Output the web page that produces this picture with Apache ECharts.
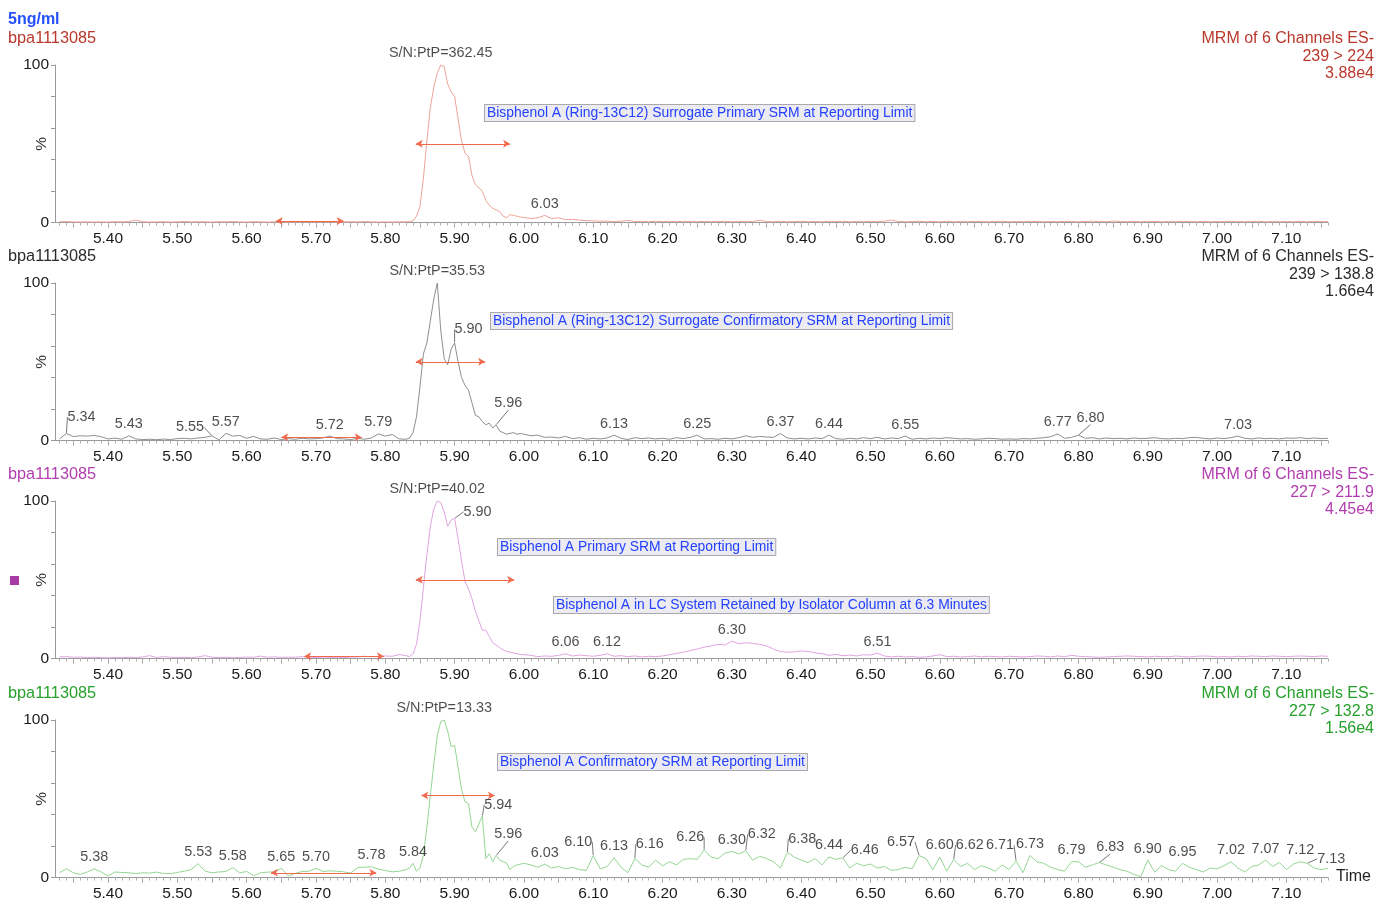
<!DOCTYPE html>
<html><head><meta charset="utf-8">
<script src="https://cdn.jsdelivr.net/npm/echarts@6/dist/echarts.min.js"></script>
<style>html,body{margin:0;padding:0;background:#fff}#c{width:1378px;height:902px}</style>
</head><body><div id="c"></div>
<script>
// ---------------- DATA ----------------
const times = [
5.33,5.34,5.35,5.36,5.37,5.38,5.39,5.40,5.41,5.42,
5.43,5.44,5.45,5.46,5.47,5.48,5.49,5.50,5.51,5.52,
5.53,5.54,5.55,5.56,5.57,5.58,5.59,5.60,5.61,5.62,
5.63,5.64,5.65,5.66,5.67,5.68,5.69,5.70,5.71,5.72,
5.73,5.74,5.75,5.76,5.77,5.78,5.79,5.80,5.81,5.82,
5.83,
5.835,5.84,5.845,5.85,5.855,5.86,5.865,5.87,5.875,5.88,
5.885,5.89,5.895,5.90,5.905,5.91,5.915,5.92,5.925,5.93,
5.935,5.94,5.945,5.95,5.955,5.96,5.965,5.97,5.975,5.98,
5.985,5.99,5.995,
6.00,6.01,6.02,6.03,6.04,6.05,6.06,6.07,6.08,6.09,
6.10,6.11,6.12,6.13,6.14,6.15,6.16,6.17,6.18,6.19,
6.20,6.21,6.22,6.23,6.24,6.25,6.26,6.27,6.28,6.29,
6.30,6.31,6.32,6.33,6.34,6.35,6.36,6.37,6.38,6.39,
6.40,6.41,6.42,6.43,6.44,6.45,6.46,6.47,6.48,6.49,
6.50,6.51,6.52,6.53,6.54,6.55,6.56,6.57,6.58,6.59,
6.60,6.61,6.62,6.63,6.64,6.65,6.66,6.67,6.68,6.69,
6.70,6.71,6.72,6.73,6.74,6.75,6.76,6.77,6.78,6.79,
6.80,6.81,6.82,6.83,6.84,6.85,6.86,6.87,6.88,6.89,
6.90,6.91,6.92,6.93,6.94,6.95,6.96,6.97,6.98,6.99,
7.00,7.01,7.02,7.03,7.04,7.05,7.06,7.07,7.08,7.09,
7.10,7.11,7.12,7.13,7.14,7.15,7.16
];

// Panel 1: 239 > 224 (Ring-13C12 surrogate primary)
const p1Values = [
0.5,0.6,0.4,0.3,0.4,0.3,0.4,0.3,0.5,0.4,
0.6,1.6,0.5,0.3,0.4,0.5,0.3,0.4,0.6,0.4,
0.5,0.4,0.3,0.5,0.4,0.6,0.4,0.3,0.5,0.4,
0.3,0.4,0.5,0.3,0.4,0.6,0.4,0.3,0.5,0.4,
0.3,0.4,0.5,0.4,0.6,0.4,0.3,0.4,0.3,0.4,
0.5,
0.5,1,4,10,28,52,73,86,95,100,
99,88,83,80,66,52,44,42,30,24,
22,20,14,11,9,8,7,4,3,5,
4.5,4,3.5,
3.2,2.5,3,4.5,2.5,3,1.8,2,1.5,1.2,
1,0.8,0.9,0.6,0.8,1.3,0.6,0.7,0.5,0.8,
0.6,0.7,0.5,0.8,0.6,0.5,0.7,0.5,0.6,0.8,
0.5,0.6,0.7,0.6,1.4,0.6,0.5,0.7,0.5,0.6,
0.8,0.5,0.6,0.5,0.7,0.6,0.8,0.5,0.6,0.5,
0.7,0.6,0.8,1.6,0.6,0.5,0.6,0.8,0.5,0.6,
0.5,0.7,0.5,0.6,0.5,0.7,0.6,0.5,0.6,0.8,
0.5,0.6,0.5,0.7,0.6,0.5,0.6,0.5,0.7,0.6,
0.5,0.6,0.8,0.6,0.5,0.9,0.6,0.5,0.6,0.5,
0.7,0.6,0.5,0.6,0.5,0.7,0.6,0.5,0.6,0.5,
0.6,0.5,0.7,0.6,0.5,0.6,0.8,0.5,0.6,0.5,
0.6,0.5,0.6,0.5,0.7,0.6,0.5
];

// Panel 2: 239 > 138.8 (Ring-13C12 surrogate confirmatory)
const p2Values = [
1.0,4.5,2.5,3.0,2.8,3.2,2.4,1.0,1.5,0.8,
3.0,1.0,0.6,0.8,0.5,0.9,0.6,1.2,1.4,1.0,
1.6,2.0,3.0,0.4,4.5,2.8,3.2,1.4,2.6,1.0,
0.8,1.6,0.6,1.2,0.8,1.4,1.0,1.2,1.6,2.8,
1.2,1.0,0.6,1.4,0.8,1.6,4.2,2.8,3.8,1.0,
0.8,
1.5,5,15,34,55,62,76,90,100,70,
52,48,58,62,50,40,35,32,24,16,
15,12,10,11,8,10,6,5,4,4.5,
5,4,4.5,
4.0,3.0,3.4,2.0,2.2,1.6,2.6,1.2,1.8,0.8,
1.4,1.0,1.6,3.4,1.4,0.6,1.8,1.2,1.6,1.0,
1.4,0.8,1.8,1.2,2.0,3.4,1.0,1.2,0.8,1.4,
1.0,1.8,3.0,2.0,2.6,2.2,2.0,4.4,1.6,1.0,
1.4,1.0,1.6,1.2,3.4,1.2,0.8,1.4,1.0,1.8,
1.2,2.0,1.0,1.6,1.2,2.8,0.8,1.4,1.0,1.6,
1.2,1.8,1.4,1.0,1.2,0.8,1.0,1.4,1.2,0.8,
1.0,0.8,1.2,1.0,1.4,1.8,2.4,4.2,1.4,2.0,
3.4,1.4,1.8,1.0,1.6,1.2,1.4,1.0,1.6,1.2,
1.4,1.8,1.2,1.0,1.4,1.2,1.8,2.0,1.4,1.0,
1.6,1.2,1.8,2.8,1.4,1.0,1.6,1.2,1.4,1.0,
1.6,1.4,1.8,1.2,1.6,1.2,1.4
];

// Panel 3: 227 > 211.9 (Bisphenol A primary)
const p3Values = [
1.0,1.2,0.8,1.0,0.6,0.8,0.5,0.4,0.6,0.5,
0.8,0.6,1.0,1.8,0.6,1.2,0.8,0.6,0.8,0.5,
1.0,1.8,0.8,0.6,0.8,0.5,0.7,0.9,0.8,1.5,
0.8,1.0,0.7,0.9,0.8,1.2,0.8,0.6,0.9,0.7,
0.8,0.6,0.9,1.0,1.4,1.1,1.3,1.6,1.4,2.5,
1.8,
1.2,3,9,24,45,66,84,95,100,99,
93,84,88,89,76,62,49,44,38,30,
24,18,18,14,10,8.5,7,5.5,4.5,4,
3.5,3,2.6,
2.4,2.0,1.2,1.6,1.4,2.0,3.0,1.6,2.2,1.8,
1.4,2.0,3.0,1.4,1.8,1.2,1.6,1.0,1.4,1.2,
1.6,2.4,3.2,4.0,5.0,6.0,7.2,8.0,9.0,8.6,
11.0,9.4,10.0,9.6,9.0,8.0,6.0,4.4,4.0,4.2,
4.8,4.4,3.6,3.0,2.0,2.6,1.8,2.2,1.6,2.4,
2.2,3.4,1.6,1.0,1.4,1.0,1.2,0.8,1.0,1.6,
2.4,1.2,1.4,1.0,1.2,1.6,1.0,1.4,1.2,1.0,
1.4,1.2,1.0,1.2,1.6,1.4,1.0,1.6,1.2,2.0,
1.4,1.2,1.0,0.8,1.0,1.2,1.4,1.6,1.4,1.2,
1.0,1.4,1.2,1.0,1.6,1.2,1.0,1.4,1.6,1.4,
1.0,1.2,1.0,1.4,1.2,1.6,1.4,1.2,1.6,1.4,
1.2,1.4,1.6,1.4,1.2,1.6,1.4
];

// Panel 4: 227 > 132.8 (Bisphenol A confirmatory)
const p4Values = [
3.0,5.5,3.0,2.0,3.5,5.5,3.5,1.0,3.5,3.2,
3.0,2.5,3.0,2.8,3.4,2.6,2.4,3.2,4.0,5.0,
8.8,4.0,3.0,3.5,3.8,6.2,3.0,3.8,1.2,3.0,
3.4,3.6,5.8,1.0,2.6,3.8,4.0,5.8,3.8,4.2,
4.0,3.6,2.8,6.2,6.6,6.8,5.4,4.4,3.6,4.0,
5.0,
6,9,4,6,14,32,52,72,90,99,
100,93,83,84,70,56,48,47,32,29,
34,39,12,15,10,14,11,10,9,5,
7,8,8.5,
9.0,8.0,6.5,8.5,6.0,7.0,5.5,6.5,5.0,4.5,
14.0,5.5,7.0,12.5,6.5,3.0,12.0,8.0,6.5,11.0,
7.5,10.0,8.0,11.5,12.0,11.5,17.5,13.0,12.0,15.5,
16.5,15.0,17.0,11.0,13.5,12.0,10.0,6.0,16.0,13.0,
11.0,9.5,12.0,8.0,13.0,11.5,12.5,6.0,9.0,7.5,
8.5,6.0,7.0,4.5,5.0,6.5,5.5,14.0,12.0,5.0,
13.0,4.0,11.5,7.0,9.0,5.0,7.5,6.0,4.0,8.0,
5.0,10.5,3.0,14.0,10.0,9.0,6.5,5.0,4.0,10.0,
10.0,6.5,8.0,9.5,8.0,6.5,5.0,4.0,2.0,0.5,
11.0,3.5,7.5,5.0,4.0,9.0,6.5,5.0,3.5,6.0,
5.5,7.5,10.0,6.0,3.5,7.0,8.0,11.0,7.0,9.5,
5.0,8.5,10.0,9.0,6.0,5.0,6.0
];

// x-axis tick labels
const tickLabels = [5.40,5.50,5.60,5.70,5.80,5.90,6.00,6.10,6.20,6.30,6.40,6.50,6.60,6.70,6.80,6.90,7.00,7.10];

// labelled retention times (plain labels / labels with leader lines)
const p1Peaks = ['6.03'];
const p1Leaders = [];
const p2Peaks = ['5.43','5.57','5.72','5.79','6.13','6.25','6.37','6.44','6.55','6.77','7.03'];
const p2Leaders = ['5.34','5.55','5.90','5.96','6.80'];
const p3Peaks = ['6.06','6.12','6.30','6.51'];
const p3Leaders = ['5.90'];
const p4Peaks = ['5.38','5.53','5.58','5.65','5.70','5.78','5.84','6.03','6.13','6.30','6.44','6.60','6.73','6.79','6.90','6.95','7.02','7.07','7.12'];
const p4Leaders = ['5.94','5.96','6.10','6.16','6.26','6.32','6.38','6.46','6.57','6.62','6.71','6.83','7.13'];

// signal-to-noise annotations [apex time, text]
const p1SN = [5.88, 'S/N:PtP=362.45'];
const p2SN = [5.875, 'S/N:PtP=35.53'];
const p3SN = [5.875, 'S/N:PtP=40.02'];
const p4SN = [5.885, 'S/N:PtP=13.33'];

// peak integration windows [start, end, level %] and noise windows [start, end, level %]
const p1Peak = [5.844, 5.980, 50];  const p1Noise = [5.642, 5.740, 1];
const p2Peak = [5.844, 5.944, 50];  const p2Noise = [5.650, 5.766, 2];
const p3Peak = [5.844, 5.986, 50];  const p3Noise = [5.683, 5.798, 1.5];
const p4Peak = [5.852, 5.958, 52];  const p4Noise = [5.635, 5.787, 3];

// header texts
const sampleName = 'bpa1113085';
const concText = '5ng/ml';
const p1Head = ['MRM of 6 Channels ES-', '239 > 224', '3.88e4'];
const p2Head = ['MRM of 6 Channels ES-', '239 > 138.8', '1.66e4'];
const p3Head = ['MRM of 6 Channels ES-', '227 > 211.9', '4.45e4'];
const p4Head = ['MRM of 6 Channels ES-', '227 > 132.8', '1.56e4'];
const p1Notes = ['Bisphenol A (Ring-13C12) Surrogate Primary SRM at Reporting Limit'];
const p2Notes = ['Bisphenol A (Ring-13C12) Surrogate Confirmatory SRM at Reporting Limit'];
const p3Notes = ['Bisphenol A Primary SRM at Reporting Limit', 'Bisphenol A in LC System Retained by Isolator Column at 6.3 Minutes'];
const p4Notes = ['Bisphenol A Confirmatory SRM at Reporting Limit'];

// ---------------- STYLE / LAYOUT ----------------
const FONT = "'Liberation Sans', Arial, sans-serif";
const XMIN = 5.3235, XMAX = 7.16;
const panels = [
  {vals:p1Values, peaks:p1Peaks, leaders:p1Leaders, sn:p1SN, pk:p1Peak, nz:p1Noise, head:p1Head, notes:p1Notes,
   line:'#eda396', hc:'#b9382b', top:65, leadOff:[],
   headY:40, noteXY:[[484,113]]},
  {vals:p2Values, peaks:p2Peaks, leaders:p2Leaders, sn:p2SN, pk:p2Peak, nz:p2Noise, head:p2Head, notes:p2Notes,
   line:'#8f8f8f', hc:'#2b2b2b', top:283, leadOff:[[15,-5],[-22,3],[14,-2],[12,-10],[12,-6]],
   headY:258, noteXY:[[490,321]]},
  {vals:p3Values, peaks:p3Peaks, leaders:p3Leaders, sn:p3SN, pk:p3Peak, nz:p3Noise, head:p3Head, notes:p3Notes,
   line:'#dfa4df', hc:'#b23db0', top:501, leadOff:[[23,5]],
   headY:476, noteXY:[[497,547],[553,605]]},
  {vals:p4Values, peaks:p4Peaks, leaders:p4Leaders, sn:p4SN, pk:p4Peak, nz:p4Noise, head:p4Head, notes:p4Notes,
   line:'#95d595', hc:'#27a02c', top:720, leadOff:[[16,0],[12,-10],[-15,-2],[15,-3],[-14,-1],[16,-5],[15,-2],[22,4],[-18,-2],[16,-3],[-16,-4],[11,-4],[24,7]],
   headY:695, noteXY:[[497,762]]}
];
const PH = 157.5;

panels.forEach((p,i)=>{ if (p.vals.length !== times.length) throw new Error('panel '+(i+1)+' length '+p.vals.length+' vs '+times.length); });

function valueAt(vals, t){
  const k = times.findIndex(x => Math.abs(x - t) < 1e-6);
  return k >= 0 ? vals[k] : 0;
}

const majorTicks = []; for (let k = 107; k <= 143; k++) majorTicks.push(+(k*0.05).toFixed(2));
const minorTicks = []; for (let k = 533; k <= 716; k++) minorTicks.push(k/100);

const grid = [], xAxis = [], yAxis = [], series = [], graphic = [];
panels.forEach((p, i) => {
  grid.push({left:55, right:50, top:p.top, height:PH, containLabel:false, outerBoundsMode:'none'});
  xAxis.push({
    type:'value', gridIndex:i, min:XMIN, max:XMAX, position:'bottom',
    axisLine:{show:true, lineStyle:{color:'#9a9a9a', width:1}},
    axisTick:{show:true, customValues:majorTicks, length:5, lineStyle:{color:'#9a9a9a'}},
    axisLabel:{customValues:tickLabels, formatter:v=>v.toFixed(2), fontSize:15.5, color:'#1a1a1a', margin:8, fontFamily:FONT},
    splitLine:{show:false}
  });
  xAxis.push({
    type:'value', gridIndex:i, min:XMIN, max:XMAX, position:'bottom',
    axisLine:{show:false},
    axisTick:{show:true, customValues:minorTicks, length:3, lineStyle:{color:'#b0b0b0'}},
    axisLabel:{show:false}, splitLine:{show:false}
  });
  yAxis.push({
    type:'value', gridIndex:i, min:0, max:100, interval:20,
    name:'%', nameLocation:'middle', nameGap:5, nameRotate:90, nameMoveOverlap:false,
    nameTextStyle:{fontSize:15.5, color:'#333', fontFamily:FONT},
    axisLine:{show:true, lineStyle:{color:'#9a9a9a'}},
    axisTick:{show:true, length:4, lineStyle:{color:'#9a9a9a'}},
    axisLabel:{formatter:v=>(v===0||v===100)?String(v):'', fontSize:15.5, color:'#1a1a1a', margin:6, fontFamily:FONT},
    splitLine:{show:false}
  });
  series.push({
    type:'line', xAxisIndex:2*i, yAxisIndex:i, silent:true, animation:false,
    data: times.map((t,k)=>[t, p.vals[k]]),
    showSymbol:false, symbol:'none',
    lineStyle:{width:1, color:p.line}, itemStyle:{color:p.line},
    markLine:{
      silent:true, animation:false, symbol:['arrow','arrow'], symbolSize:[6,7],
      label:{show:false},
      lineStyle:{color:'#f26a4e', type:'solid', width:1},
      data:[
        [{coord:[p.pk[0], p.pk[2]]}, {coord:[p.pk[1], p.pk[2]]}],
        [{coord:[p.nz[0], p.nz[2]]}, {coord:[p.nz[1], p.nz[2]]}]
      ]
    }
  });
  const plain = p.peaks.map(s => ({value:[+s, valueAt(p.vals, +s)], name:s}));
  plain.push({value:[p.sn[0], valueAt(p.vals, p.sn[0])], name:p.sn[1]});
  series.push({
    type:'scatter', xAxisIndex:2*i, yAxisIndex:i, silent:true, animation:false,
    symbolSize:1, itemStyle:{color:'rgba(0,0,0,0)'}, z:5,
    data:plain,
    label:{show:true, position:'top', distance:4, formatter:'{b}', fontSize:14.4, color:'#1e1e1e', fontFamily:FONT}
  });
  if (p.leaders.length) {
    const offs = p.leadOff;
    series.push({
      type:'scatter', xAxisIndex:2*i, yAxisIndex:i, silent:true, animation:false,
      symbolSize:1, itemStyle:{color:'rgba(0,0,0,0)'}, z:5,
      data:p.leaders.map(s => ({value:[+s, valueAt(p.vals, +s)], name:s})),
      label:{show:true, position:'top', distance:4, formatter:'{b}', fontSize:14.4, color:'#1e1e1e', fontFamily:FONT},
      labelLayout: function(params){ const o = offs[params.dataIndex] || [0,0]; return {dx:o[0], dy:o[1]}; },
      labelLine:{show:true, lineStyle:{color:'#777', width:1}}
    });
  }
  // headers
  graphic.push({type:'text', left:8, top:p.headY-9, style:{text:sampleName, fill:p.hc, font:'16.3px '+FONT}});
  p.head.forEach((h, j) => {
    graphic.push({type:'text', right:4, top:p.headY-9+j*17.5, style:{text:h, fill:p.hc, font:'16px '+FONT, textAlign:'right'}});
  });
  p.notes.forEach((n, j) => {
    graphic.push({type:'text', left:p.noteXY[j][0], top:p.noteXY[j][1]-9, z:10,
      style:{text:n, fill:'#2441ff', font:'13.9px '+FONT, backgroundColor:'#ebebf1', borderColor:'#a9a9ad', borderWidth:1, padding:[1,2,1,2]}});
  });
});
graphic.push({type:'text', left:8, top:12, style:{text:concText, fill:'#2450ff', font:'bold 16px '+FONT}});
graphic.push({type:'text', left:1336, top:869, style:{text:'Time', fill:'#1e1e1e', font:'16px '+FONT}});
graphic.push({type:'rect', left:10, top:576, shape:{width:9, height:9}, style:{fill:'#a83aa6'}});

const chart = echarts.init(document.getElementById('c'), null, {renderer:'canvas'});
chart.setOption({animation:false, backgroundColor:'#fff', grid, xAxis, yAxis, series, graphic});
</script>
</body></html>
